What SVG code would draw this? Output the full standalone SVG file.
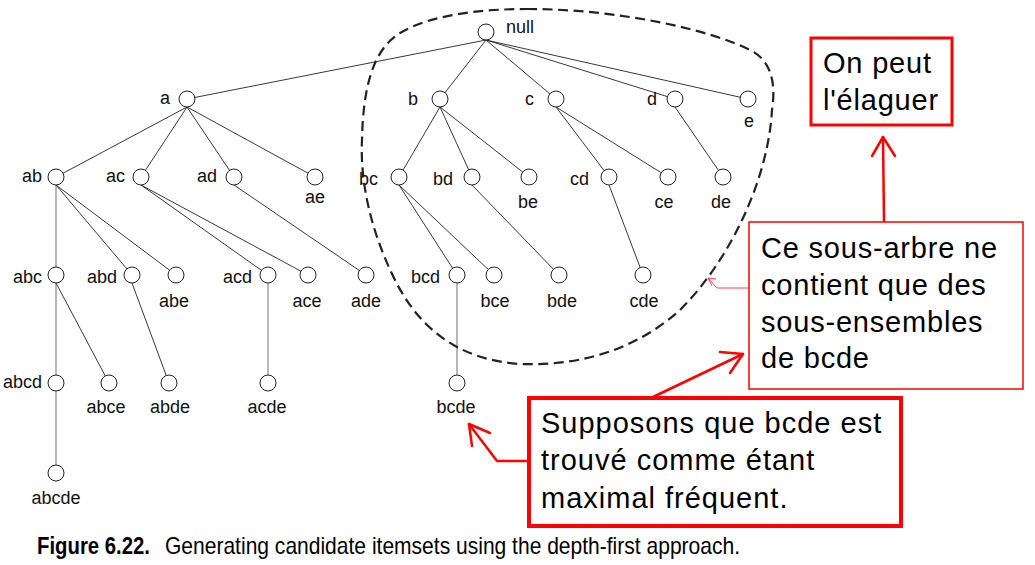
<svg xmlns="http://www.w3.org/2000/svg" width="1035" height="565" viewBox="0 0 1035 565">
<style>
  .n { fill: #fff; stroke: #222; stroke-width: 1; }
  .e { stroke: #222; stroke-width: 0.9; fill: none; }
  .v { stroke: #888; stroke-width: 1.2; fill: none; }
  .l { font-family: "Liberation Sans", Arial, sans-serif; font-size: 18px; fill: #111; }
  .le { text-anchor: end; }
  .lm { text-anchor: middle; }
  .hull { fill: none; stroke: #222; stroke-width: 2.2; stroke-dasharray: 10 5.5; }
  .box { fill: #fff; stroke: #f00; }
  .bt { font-family: "Liberation Sans", Arial, sans-serif; font-size: 29px; fill: #000; }
  .ra { stroke: #f00; stroke-width: 2.5; fill: none; stroke-linecap: round; stroke-linejoin: round; }
  .cap { font-family: "Liberation Sans", Arial, sans-serif; font-size: 24px; fill: #000; }
</style>
<g id="connectors">
  <line class="e" x1="486" y1="40" x2="187" y2="99"/>
  <line class="e" x1="486" y1="40" x2="440" y2="99"/>
  <line class="e" x1="486" y1="40" x2="556" y2="99"/>
  <line class="e" x1="486" y1="40" x2="675" y2="99"/>
  <line class="e" x1="486" y1="40" x2="748" y2="99"/>
  <line class="e" x1="187" y1="107" x2="56" y2="177"/>
  <line class="e" x1="187" y1="107" x2="141" y2="177"/>
  <line class="e" x1="187" y1="107" x2="234" y2="177"/>
  <line class="e" x1="187" y1="107" x2="315" y2="177"/>
  <line class="e" x1="440" y1="107" x2="399" y2="177"/>
  <line class="e" x1="440" y1="107" x2="472" y2="177"/>
  <line class="e" x1="440" y1="107" x2="529" y2="177"/>
  <line class="e" x1="556" y1="107" x2="609" y2="177"/>
  <line class="e" x1="556" y1="107" x2="668" y2="177"/>
  <line class="e" x1="675" y1="107" x2="723" y2="177"/>
  <line class="v" x1="56" y1="185" x2="56" y2="275"/>
  <line class="e" x1="56" y1="185" x2="132" y2="275"/>
  <line class="e" x1="56" y1="185" x2="176" y2="275"/>
  <line class="e" x1="141" y1="185" x2="268" y2="275"/>
  <line class="e" x1="141" y1="185" x2="308" y2="275"/>
  <line class="e" x1="234" y1="185" x2="366" y2="275"/>
  <line class="e" x1="399" y1="185" x2="457" y2="275"/>
  <line class="e" x1="399" y1="185" x2="494" y2="275"/>
  <line class="e" x1="472" y1="185" x2="559" y2="275"/>
  <line class="e" x1="609" y1="185" x2="643" y2="275"/>
  <line class="v" x1="56" y1="283" x2="56" y2="383"/>
  <line class="e" x1="56" y1="283" x2="109" y2="383"/>
  <line class="e" x1="132" y1="283" x2="169" y2="383"/>
  <line class="v" x1="268" y1="283" x2="268" y2="383"/>
  <line class="v" x1="457" y1="283" x2="457" y2="383"/>
  <line class="v" x1="56" y1="391" x2="56" y2="473"/>
</g>
<path id="subtree-hull" class="hull" d="M 527,9 C 620,9 710,30 750,50 C 775,62 775,90 772,110 C 768,180 730,260 680,310 C 630,355 570,366 520,364 C 460,360 420,330 395,280 C 370,230 360,180 362,140 C 363,90 372,50 400,33 C 430,15 480,9 527,9 Z"/>
<g id="node-null"><circle class="n" cx="486" cy="32" r="8"/><text class="l" x="506" y="33">null</text></g>
<g id="node-a"><circle class="n" cx="187" cy="99" r="8"/><text class="l le" x="170" y="104">a</text></g>
<g id="node-b"><circle class="n" cx="440" cy="99" r="8"/><text class="l le" x="418" y="105">b</text></g>
<g id="node-c"><circle class="n" cx="556" cy="99" r="8"/><text class="l le" x="534" y="105">c</text></g>
<g id="node-d"><circle class="n" cx="675" cy="99" r="8"/><text class="l le" x="657" y="105">d</text></g>
<g id="node-e"><circle class="n" cx="748" cy="99" r="8"/><text class="l lm" x="749" y="127">e</text></g>
<g id="node-ab"><circle class="n" cx="56" cy="177" r="8"/><text class="l le" x="42" y="182">ab</text></g>
<g id="node-ac"><circle class="n" cx="141" cy="177" r="8"/><text class="l le" x="125" y="182">ac</text></g>
<g id="node-ad"><circle class="n" cx="234" cy="177" r="8"/><text class="l le" x="217" y="182">ad</text></g>
<g id="node-ae"><circle class="n" cx="315" cy="177" r="8"/><text class="l lm" x="315" y="203">ae</text></g>
<g id="node-bc"><circle class="n" cx="399" cy="177" r="8"/><text class="l le" x="378" y="185">bc</text></g>
<g id="node-bd"><circle class="n" cx="472" cy="177" r="8"/><text class="l le" x="453" y="185">bd</text></g>
<g id="node-be"><circle class="n" cx="529" cy="177" r="8"/><text class="l lm" x="528" y="208">be</text></g>
<g id="node-cd"><circle class="n" cx="609" cy="177" r="8"/><text class="l le" x="589" y="185">cd</text></g>
<g id="node-ce"><circle class="n" cx="668" cy="177" r="8"/><text class="l lm" x="664" y="208">ce</text></g>
<g id="node-de"><circle class="n" cx="723" cy="177" r="8"/><text class="l lm" x="721" y="208">de</text></g>
<g id="node-abc"><circle class="n" cx="56" cy="275" r="8"/><text class="l le" x="42" y="283">abc</text></g>
<g id="node-abd"><circle class="n" cx="132" cy="275" r="8"/><text class="l le" x="117" y="283">abd</text></g>
<g id="node-abe"><circle class="n" cx="176" cy="275" r="8"/><text class="l lm" x="174" y="307">abe</text></g>
<g id="node-acd"><circle class="n" cx="268" cy="275" r="8"/><text class="l le" x="252" y="283">acd</text></g>
<g id="node-ace"><circle class="n" cx="308" cy="275" r="8"/><text class="l lm" x="307" y="307">ace</text></g>
<g id="node-ade"><circle class="n" cx="366" cy="275" r="8"/><text class="l lm" x="366" y="307">ade</text></g>
<g id="node-bcd"><circle class="n" cx="457" cy="275" r="8"/><text class="l le" x="440" y="283">bcd</text></g>
<g id="node-bce"><circle class="n" cx="494" cy="275" r="8"/><text class="l lm" x="495" y="307">bce</text></g>
<g id="node-bde"><circle class="n" cx="559" cy="275" r="8"/><text class="l lm" x="562" y="307">bde</text></g>
<g id="node-cde"><circle class="n" cx="643" cy="275" r="8"/><text class="l lm" x="644" y="307">cde</text></g>
<g id="node-abcd"><circle class="n" cx="56" cy="383" r="8"/><text class="l le" x="42" y="388">abcd</text></g>
<g id="node-abce"><circle class="n" cx="109" cy="383" r="8"/><text class="l lm" x="106" y="413">abce</text></g>
<g id="node-abde"><circle class="n" cx="169" cy="383" r="8"/><text class="l lm" x="170" y="413">abde</text></g>
<g id="node-acde"><circle class="n" cx="268" cy="383" r="8"/><text class="l lm" x="267" y="413">acde</text></g>
<g id="node-bcde"><circle class="n" cx="457" cy="383" r="8"/><text class="l lm" x="456" y="413">bcde</text></g>
<g id="node-abcde"><circle class="n" cx="56" cy="473" r="8"/><text class="l lm" x="56" y="504">abcde</text></g>
<g id="callout-arrows">
  <path class="ra" d="M 884,222 L 883,137"/>
  <path class="ra" d="M 872,156 L 883,137 L 895,156"/>
  <path d="M 748,288 L 717,288 L 708,278" stroke="#f44" stroke-width="1" fill="none"/>
  <path d="M 716,279 L 708,278 L 712,286" stroke="#f44" stroke-width="1" fill="none"/>
  <path class="ra" d="M 653,397 L 743,354"/>
  <path class="ra" d="M 720,352 L 743,354 L 730,373"/>
  <path class="ra" d="M 528,461 L 497,461 L 469,424"/>
  <path class="ra" d="M 490,433 L 469,424 L 472,446"/>
</g>
<g id="callout-prune">
  <rect class="box" x="811" y="38" width="141" height="87" stroke="#e0203a" stroke-width="3"/>
  <text class="bt" x="823" y="73" letter-spacing="0.8">On peut</text>
  <text class="bt" x="823" y="110" letter-spacing="0.8">l'élaguer</text>
</g>
<g id="callout-subtree">
  <rect class="box" x="749" y="222" width="274" height="167" stroke-width="1.5"/>
  <text class="bt" x="761" y="258" letter-spacing="0.8">Ce sous-arbre ne</text>
  <text class="bt" x="761" y="295" letter-spacing="0.8">contient que des</text>
  <text class="bt" x="761" y="332" letter-spacing="0.8">sous-ensembles</text>
  <text class="bt" x="761" y="368" letter-spacing="0.8">de bcde</text>
</g>
<g id="callout-maximal">
  <rect class="box" x="529" y="398" width="372" height="128" stroke-width="4"/>
  <text class="bt" x="541" y="433" letter-spacing="1">Supposons que bcde est</text>
  <text class="bt" x="541" y="470" letter-spacing="1">trouvé comme étant</text>
  <text class="bt" x="541" y="508" letter-spacing="1">maximal fréquent.</text>
</g>
<g id="caption">
  <text class="cap" x="37" y="554" font-weight="bold" textLength="113" lengthAdjust="spacingAndGlyphs">Figure 6.22.</text>
  <text class="cap" x="165" y="554" textLength="575" lengthAdjust="spacingAndGlyphs">Generating candidate itemsets using the depth-first approach.</text>
</g>
</svg>
